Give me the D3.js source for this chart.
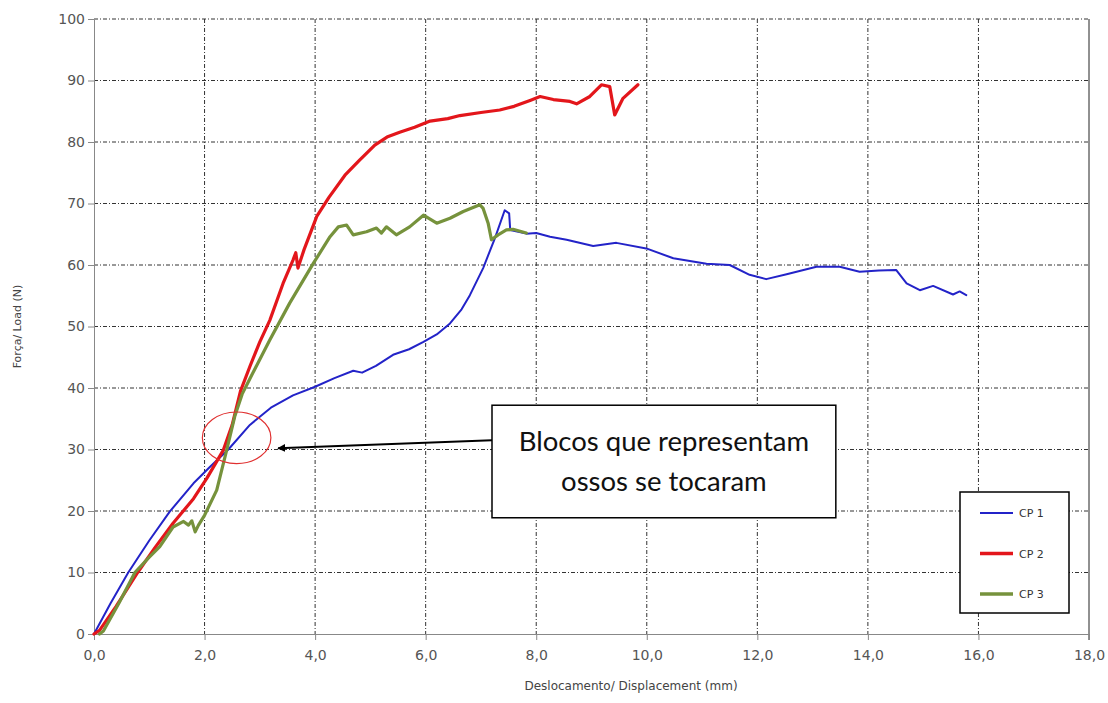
<!DOCTYPE html>
<html>
<head>
<meta charset="utf-8">
<script src="https://cdn.jsdelivr.net/npm/d3@7"></script>
<style>
  body { margin: 0; background: #fff; }
</style>
</head>
<body>
<div id="chart"></div>
<script>
// displacement (mm) / load (N) pairs
const cp1 = [[0,0],[0.3,5],[0.62,10],[1.0,15.2],[1.37,19.9],[1.8,24.5],[2.1,27.2],[2.43,30],[2.82,34],
  [3.2,36.8],[3.6,38.8],[4.0,40.2],[4.35,41.6],[4.69,42.8],[4.85,42.5],[5.1,43.6],[5.41,45.4],[5.7,46.3],
  [5.96,47.5],[6.2,48.7],[6.44,50.5],[6.65,52.8],[6.8,55.1],[7.04,59.5],[7.25,64.3],[7.43,68.9],[7.51,68.4],
  [7.53,65.7],[7.82,65.1],[8.0,65.2],[8.25,64.6],[8.55,64.1],[9.03,63.1],[9.45,63.6],[9.99,62.7],[10.48,61.1],
  [11.08,60.2],[11.5,60],[11.86,58.4],[12.16,57.7],[12.53,58.5],[13.07,59.7],[13.49,59.7],[13.85,58.9],
  [14.2,59.1],[14.51,59.2],[14.7,57.0],[14.94,55.9],[15.18,56.6],[15.54,55.2],[15.66,55.7],[15.78,55.1]];

const cp2 = [[0,0],[0.1,0.6],[0.4,4.5],[0.79,10],[1.1,14],[1.43,18],[1.8,22],[2.04,25.3],[2.34,29.9],
  [2.5,34],[2.65,39.5],[2.82,43.5],[3.0,47.5],[3.18,51],[3.42,57],[3.6,60.8],[3.65,62],[3.69,59.5],[3.8,62.5],
  [4.03,67.9],[4.25,71],[4.54,74.6],[4.8,77],[5.08,79.5],[5.3,80.8],[5.53,81.6],[5.8,82.4],[6.08,83.4],
  [6.4,83.8],[6.62,84.3],[7.0,84.8],[7.34,85.2],[7.6,85.8],[7.9,86.8],[8.07,87.4],[8.31,86.9],[8.61,86.6],
  [8.73,86.2],[8.97,87.4],[9.18,89.3],[9.33,89.0],[9.42,84.4],[9.57,87.1],[9.84,89.3]];

const cp3 = [[0.1,0],[0.17,0.5],[0.45,5],[0.74,10],[1.0,12.5],[1.19,14.2],[1.43,17.4],[1.62,18.3],
  [1.71,17.7],[1.77,18.4],[1.83,16.6],[1.89,17.7],[2.0,19.3],[2.22,23.4],[2.4,29.9],[2.55,35.5],[2.68,39],
  [2.82,41.5],[3.18,47.8],[3.54,53.8],[3.97,60.3],[4.27,64.6],[4.42,66.2],[4.57,66.5],[4.69,64.9],[4.93,65.4],
  [5.11,66.0],[5.2,65.2],[5.29,66.2],[5.47,64.9],[5.71,66.2],[5.96,68.1],[6.2,66.8],[6.44,67.6],[6.68,68.7],
  [6.98,69.8],[7.04,69.2],[7.13,66.8],[7.19,64.1],[7.31,64.9],[7.46,65.7],[7.58,65.8],[7.82,65.2]];

const seriesNames = ["CP 1", "CP 2", "CP 3"];
const xTicks = [0, 2, 4, 6, 8, 10, 12, 14, 16, 18];
const yTicks = [0, 10, 20, 30, 40, 50, 60, 70, 80, 90, 100];
const noteLines = ["Blocos que representam", "ossos se tocaram"];

const fullWidth = 1108, fullHeight = 703;
const margin = { top: 19, right: 19, bottom: 69, left: 94 };
const width = fullWidth - margin.left - margin.right;
const height = fullHeight - margin.top - margin.bottom;

const svg = d3.select("#chart").append("svg")
  .attr("width", fullWidth)
  .attr("height", fullHeight)
  .style("font-family", "DejaVu Sans, sans-serif");

const chart = svg.append("g")
  .attr("transform", `translate(${margin.left},${margin.top})`);

const x = d3.scaleLinear().domain([0, 18]).range([0, width]);
const y = d3.scaleLinear().domain([0, 100]).range([height, 0]);
const fmt = d3.format(".1f");

// === Gridlines ===
chart.append("g")
  .selectAll("line")
  .data(yTicks.slice(1))
  .join("line")
  .attr("x1", 0).attr("x2", width)
  .attr("y1", (d) => y(d)).attr("y2", (d) => y(d))
  .attr("stroke", "#333")
  .attr("stroke-dasharray", "4,2,1,2");

chart.append("g")
  .selectAll("line")
  .data(xTicks.slice(1, -1))
  .join("line")
  .attr("x1", (d) => x(d)).attr("x2", (d) => x(d))
  .attr("y1", 0).attr("y2", height)
  .attr("stroke", "#333")
  .attr("stroke-dasharray", "4,2,1,2");

chart.append("line")
  .attr("x1", x(18)).attr("x2", x(18))
  .attr("y1", 0).attr("y2", height + 6)
  .attr("stroke", "#222");

// === Axes ===
const xAxis = chart.append("g")
  .attr("transform", `translate(0,${height})`)
  .call(d3.axisBottom(x).tickValues(xTicks).tickFormat((d) => fmt(d).replace(".", ",")).tickSize(6).tickSizeOuter(0));
const yAxis = chart.append("g")
  .call(d3.axisLeft(y).tickValues(yTicks).tickSize(6).tickSizeOuter(0));

[xAxis, yAxis].forEach((a) => {
  a.select(".domain").attr("stroke", "#888");
  a.selectAll(".tick line").attr("stroke", "#888");
  a.selectAll(".tick text")
    .style("font-family", "DejaVu Sans, sans-serif")
    .style("font-size", "14px")
    .style("fill", "#555");
});
xAxis.selectAll(".tick text").attr("dy", "1.2em");
yAxis.selectAll(".tick text").attr("x", -9);

// === Axis labels ===
svg.append("text")
  .attr("x", 631)
  .attr("y", 690)
  .attr("text-anchor", "middle")
  .style("font-size", "12px")
  .style("fill", "#444")
  .text("Deslocamento/ Displacement (mm)");

svg.append("text")
  .attr("transform", `translate(21,${margin.top + height / 2}) rotate(-90)`)
  .attr("text-anchor", "middle")
  .style("font-size", "11px")
  .style("fill", "#444")
  .text("Força/ Load (N)");

// === Curves ===
const colors = ["#2323c8", "#e3161b", "#76923c"];
const widths = [2, 3.2, 3.2];
const line = d3.line().x((d) => x(d[0])).y((d) => y(d[1]));

[cp1, cp2, cp3].forEach((s, i) => {
  chart.append("path")
    .datum(s)
    .attr("d", line)
    .attr("fill", "none")
    .attr("stroke", colors[i])
    .attr("stroke-width", widths[i])
    .attr("stroke-linejoin", "round")
    .attr("stroke-linecap", "round");
});

// === Annotation ===
chart.append("ellipse")
  .attr("cx", x(2.58)).attr("cy", y(31.9))
  .attr("rx", x(0.62) - x(0)).attr("ry", y(0) - y(4.2))
  .attr("fill", "none")
  .attr("stroke", "#e03030")
  .attr("stroke-width", 1.2);

svg.append("defs").append("marker")
  .attr("id", "arrow")
  .attr("viewBox", "0 0 10 10")
  .attr("refX", 9).attr("refY", 5)
  .attr("markerWidth", 8).attr("markerHeight", 8)
  .attr("markerUnits", "userSpaceOnUse")
  .attr("orient", "auto")
  .append("path")
  .attr("d", "M0,0L10,5L0,10z")
  .attr("fill", "#000");

chart.append("line")
  .attr("x1", x(7.2)).attr("y1", y(31.5))
  .attr("x2", x(3.33)).attr("y2", y(30.2))
  .attr("stroke", "#000")
  .attr("stroke-width", 2)
  .attr("marker-end", "url(#arrow)");

chart.append("rect")
  .attr("x", x(7.2)).attr("y", y(37.2))
  .attr("width", x(13.42) - x(7.2)).attr("height", y(18.9) - y(37.2))
  .attr("fill", "#fff")
  .attr("stroke", "#000")
  .attr("stroke-width", 1.5);

chart.append("g")
  .selectAll("text")
  .data(noteLines)
  .join("text")
  .attr("x", x(10.31))
  .attr("y", (d, i) => y(37.2) + 46 + i * 40)
  .attr("text-anchor", "middle")
  .style("font-family", "Lato, sans-serif")
  .style("font-size", "27.5px")
  .style("fill", "#111")
  .text((d) => d);

// === Legend ===
const legend = svg.append("g").attr("transform", "translate(960,492)");
legend.append("rect")
  .attr("width", 109).attr("height", 121)
  .attr("fill", "#fff")
  .attr("stroke", "#000")
  .attr("stroke-width", 1.5);

seriesNames.forEach((name, i) => {
  const g = legend.append("g").attr("transform", `translate(0,${21 + i * 40.5})`);
  g.append("line")
    .attr("x1", 20).attr("x2", 53)
    .attr("stroke", colors[i])
    .attr("stroke-width", i === 0 ? 2 : 3.5);
  g.append("text")
    .attr("x", 59).attr("y", 4)
    .style("font-size", "11px")
    .style("fill", "#333")
    .text(name);
});
</script>
</body>
</html>
